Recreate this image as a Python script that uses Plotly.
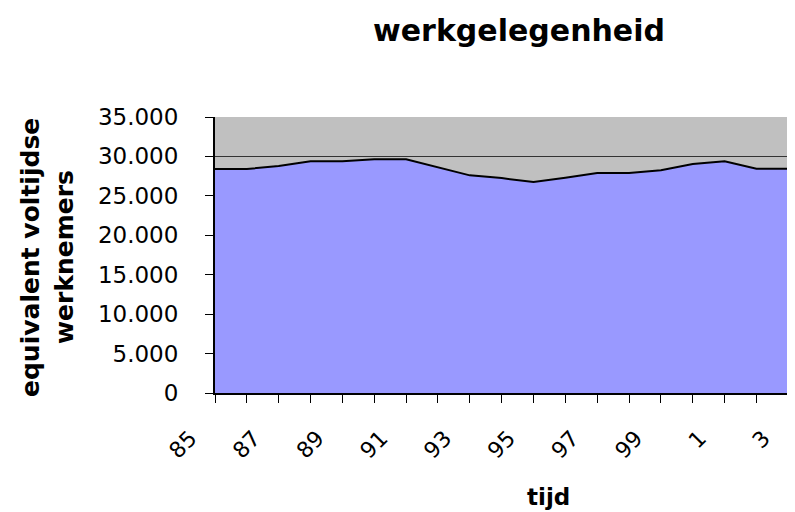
import plotly.graph_objects as go

years = ["85", "86", "87", "88", "89", "90", "91", "92", "93", "94",
         "95", "96", "97", "98", "99", "0", "1", "2", "3", "4"]
employment = [28400, 28400, 28800, 29400, 29400, 29650, 29650, 28650, 27600, 27250,
              26750, 27300, 27900, 27900, 28250, 29050, 29400, 28450, 28450, 28450]
y_ticks = [0, 5000, 10000, 15000, 20000, 25000, 30000, 35000]
y_tick_text = ["0", "5.000", "10.000", "15.000", "20.000", "25.000", "30.000", "35.000"]
x_tick_text = [(y + "\u00a0" * 5) if i % 2 == 0 else "" for i, y in enumerate(years)]

# page offset (browser body margin)
OFF = 8
W, H = 795, 512
L = 215 - OFF
T = 117 - OFF
B = H - (393 - OFF)
R = 0
plot_w = W - L - R
plot_h = H - T - B
step = 31.85

fig = go.Figure()
fig.add_trace(go.Scatter(
    x=years, y=employment, mode="lines", fill="tozeroy",
    fillcolor="#9999FF", line=dict(color="black", width=2),
    showlegend=False, hoverinfo="x+y"))

font_family = "DejaVu Sans"
fig.update_layout(
    width=W, height=H,
    margin=dict(l=L, r=R, t=T, b=B, autoexpand=False),
    paper_bgcolor="white", plot_bgcolor="#C0C0C0",
    title=dict(text="<b>werkgelegenheid</b>", x=(519 - OFF) / W, xanchor="center",
               y=1 - (30 - OFF) / H, yanchor="middle", automargin=False,
               font=dict(family=font_family, size=30, color="black")),
    font=dict(family=font_family, color="black"),
    xaxis=dict(type="category", range=[0, plot_w / step], automargin=False,
               tickmode="array", tickvals=years, ticktext=x_tick_text,
               tickangle=-45, ticks="outside", ticklen=8, tickwidth=1, tickcolor="black",
               ticklabelstandoff=-11,
               showline=True, linecolor="black", linewidth=2,
               showgrid=False, zeroline=False,
               tickfont=dict(family=font_family, size=22, color="black")),
    yaxis=dict(range=[0, 35000], tickmode="array", tickvals=y_ticks, ticktext=y_tick_text,
               automargin=False,
               ticks="outside", ticklen=8, tickwidth=1, tickcolor="black",
               ticklabelstandoff=22,
               showline=True, linecolor="black", linewidth=2,
               showgrid=True, gridcolor="#333333", gridwidth=1, zeroline=False,
               tickfont=dict(family=font_family, size=23, color="black")),
)

def ypaper(py):
    return (H - B - (py - OFF)) / plot_h

def xpaper(px):
    return ((px - OFF) - L) / plot_w

fig.add_annotation(text="<b>equivalent voltijdse</b>", xref="paper", yref="paper",
                   x=xpaper(30), y=ypaper(258), xanchor="center", yanchor="middle",
                   textangle=-90, showarrow=False,
                   font=dict(family=font_family, size=25, color="black"))
fig.add_annotation(text="<b>werknemers</b>", xref="paper", yref="paper",
                   x=xpaper(64), y=ypaper(257), xanchor="center", yanchor="middle",
                   textangle=-90, showarrow=False,
                   font=dict(family=font_family, size=25, color="black"))
fig.add_annotation(text="<b>tijd</b>", xref="paper", yref="paper",
                   x=xpaper(548), y=ypaper(497), xanchor="center", yanchor="middle",
                   showarrow=False,
                   font=dict(family=font_family, size=23, color="black"))

fig.write_html("out.html")
